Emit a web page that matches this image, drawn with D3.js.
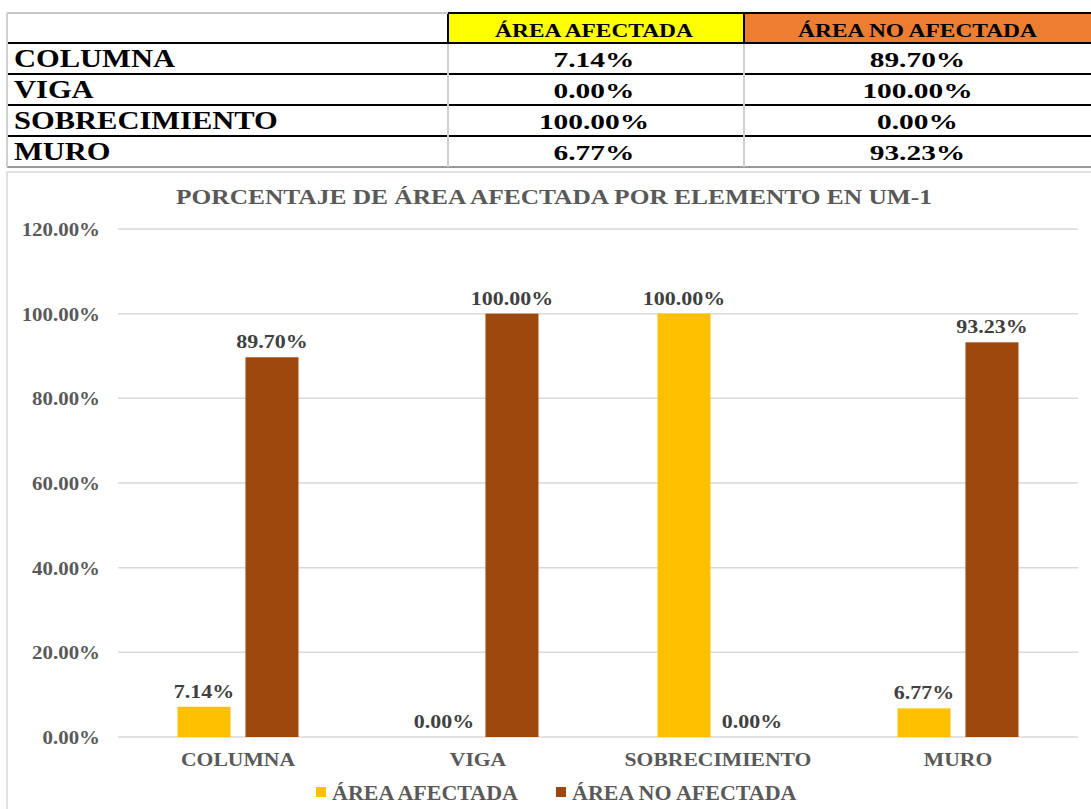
<!DOCTYPE html>
<html>
<head>
<meta charset="utf-8">
<script src="https://cdn.jsdelivr.net/npm/d3@7"></script>
<style>
  body { margin: 0; background: #fff; }
  svg { display: block; }
  text { font-family: "Liberation Serif", "Times New Roman", serif; font-weight: bold; }
</style>
</head>
<body>
<div id="chart-area"></div>
<script>
// data
const categories = ["COLUMNA", "VIGA", "SOBRECIMIENTO", "MURO"];
const series = ["ÁREA AFECTADA", "ÁREA NO AFECTADA"];
const afectada = [0.0714, 0.0, 1.0, 0.0677];
const noAfectada = [0.897, 1.0, 0.0, 0.9323];
const yTicks = [0, 0.2, 0.4, 0.6, 0.8, 1.0, 1.2];

const W = 1091, H = 809;
const fmt = d3.format(".2%");
const colors = d3.scaleOrdinal().domain(series).range(["#FFC000", "#9E480E"]);
const headFill = d3.scaleOrdinal().domain(series).range(["#FFFF00", "#ED7D31"]);

const rows = categories.map((c, i) => ({ name: c, values: [afectada[i], noAfectada[i]] }));

let svg = d3.select("#chart-area").append("svg")
  .attr("width", W)
  .attr("height", H);

// stretch text horizontally like the original picture
function stretch(sel, k) {
  sel.each(function () {
    let len = this.getComputedTextLength();
    d3.select(this).attr("textLength", len * k).attr("lengthAdjust", "spacingAndGlyphs");
  });
}

// ---------- table ----------
const tTop = 13, headH = 30, rowH = 31;
const colX = [7, 448, 744, 1095];
const table = svg.append("g");

let rowY = d3.scaleBand().domain(categories).range([tTop + headH, tTop + headH + rowH * categories.length]);

// header cells
table.selectAll("rect.head").data(series).enter()
  .append("rect")
  .attr("x", (d, i) => colX[i + 1])
  .attr("y", tTop)
  .attr("width", (d, i) => colX[i + 2] - colX[i + 1])
  .attr("height", headH)
  .attr("fill", d => headFill(d))
  .attr("stroke", "#000")
  .attr("stroke-width", 2);

table.append("line").attr("x1", colX[0]).attr("x2", colX[1]).attr("y1", tTop).attr("y2", tTop)
  .attr("stroke", "#c8c8c8").attr("stroke-width", 2);

table.selectAll("text.head").data(series).enter()
  .append("text")
  .attr("x", (d, i) => (colX[i + 1] + colX[i + 2] - 4) / 2)
  .attr("y", tTop + 24)
  .attr("text-anchor", "middle")
  .attr("font-size", 18)
  .attr("fill", "#000")
  .text(d => d)
  .call(stretch, 1.3);

// row lines
table.selectAll("line.row").data(categories).enter()
  .append("line")
  .attr("x1", colX[0]).attr("x2", W)
  .attr("y1", d => rowY(d) + rowY.bandwidth())
  .attr("y2", d => rowY(d) + rowY.bandwidth())
  .attr("stroke", (d, i) => i == categories.length - 1 ? "#9a9a9a" : "#000")
  .attr("stroke-width", 2);
table.append("line").attr("x1", colX[0]).attr("x2", W).attr("y1", tTop + headH).attr("y2", tTop + headH)
  .attr("stroke", "#000").attr("stroke-width", 2);

// vertical separators
[colX[0], colX[1], colX[2]].forEach((x, i) => {
  table.append("line")
    .attr("x1", x).attr("x2", x)
    .attr("y1", i == 0 ? tTop : tTop + headH + 1)
    .attr("y2", tTop + headH + rowH * categories.length)
    .attr("stroke", "#d0d0d0").attr("stroke-width", 2);
});

let tRows = table.selectAll("g.trow").data(rows).enter().append("g")
  .attr("transform", d => "translate(0," + rowY(d.name) + ")");

tRows.append("text")
  .attr("x", 14)
  .attr("y", 24)
  .attr("font-size", 25)
  .attr("fill", "#000")
  .text(d => d.name)
  .call(stretch, 1.22);

tRows.selectAll("text.val").data(d => d.values).enter()
  .append("text")
  .attr("x", (d, i) => (colX[i + 1] + colX[i + 2] - 4) / 2)
  .attr("y", 24)
  .attr("text-anchor", "middle")
  .attr("font-size", 21)
  .attr("fill", "#000")
  .text(d => fmt(d))
  .call(stretch, 1.4);

// ---------- chart ----------
svg.append("rect")
  .attr("x", 7).attr("y", 172)
  .attr("width", W).attr("height", H)
  .attr("fill", "none")
  .attr("stroke", "#d9d9d9")
  .attr("stroke-width", 1.5);

let x = d3.scaleBand()
  .domain(categories)
  .range([118, 1078]);

let y = d3.scaleLinear()
  .domain([0, 1.2])
  .range([737, 229]);

let xInner = d3.scaleBand()
  .domain(series)
  .range([x.bandwidth() * 0.248, x.bandwidth() * 0.752])
  .paddingInner(0.22);

// title
svg.append("text")
  .attr("x", 554)
  .attr("y", 204)
  .attr("text-anchor", "middle")
  .attr("font-size", 20)
  .attr("fill", "#595959")
  .text("PORCENTAJE DE ÁREA AFECTADA POR ELEMENTO EN UM-1")
  .attr("textLength", 756)
  .attr("lengthAdjust", "spacingAndGlyphs");

// grid
svg.append("g").selectAll("line").data(yTicks).enter()
  .append("line")
  .attr("x1", 118).attr("x2", 1078)
  .attr("y1", d => y(d)).attr("y2", d => y(d))
  .attr("stroke", "#d9d9d9")
  .attr("stroke-width", 1.5);

// y labels
svg.append("g").selectAll("text").data(yTicks).enter()
  .append("text")
  .attr("x", 100)
  .attr("y", d => y(d) + 7)
  .attr("text-anchor", "end")
  .attr("font-size", 19)
  .attr("fill", "#595959")
  .text(d => fmt(d))
  .call(stretch, 1.1);

// bars
let groups = svg.append("g").selectAll("g").data(rows).enter()
  .append("g")
  .attr("transform", d => "translate(" + x(d.name) + ",0)");

let bars = groups.selectAll("rect").data(d => d.values.map((v, i) => ({ s: series[i], v: v })));
bars.enter()
  .append("rect")
  .attr("x", d => xInner(d.s))
  .attr("y", d => y(d.v))
  .attr("width", xInner.bandwidth())
  .attr("height", d => y(0) - y(d.v))
  .attr("fill", d => colors(d.s));

groups.selectAll("text").data(d => d.values.map((v, i) => ({ s: series[i], v: v }))).enter()
  .append("text")
  .attr("x", d => xInner(d.s) + xInner.bandwidth() / 2)
  .attr("y", d => y(d.v) - 9)
  .attr("text-anchor", "middle")
  .attr("font-size", 18)
  .attr("fill", "#404040")
  .text(d => fmt(d.v))
  .call(stretch, 1.22);

// x labels
svg.append("g").selectAll("text").data(categories).enter()
  .append("text")
  .attr("x", d => x(d) + x.bandwidth() / 2)
  .attr("y", 766)
  .attr("text-anchor", "middle")
  .attr("font-size", 18)
  .attr("fill", "#595959")
  .text(d => d)
  .call(stretch, 1.2);

// legend
const legX = [316, 556];
let leg = svg.append("g").selectAll("g").data(series).enter()
  .append("g")
  .attr("transform", (d, i) => "translate(" + legX[i] + ",787)");
leg.append("rect")
  .attr("width", 10).attr("height", 10)
  .attr("fill", d => colors(d));
leg.append("text")
  .attr("x", 16)
  .attr("y", 13)
  .attr("font-size", 20)
  .attr("fill", "#595959")
  .text(d => d)
  .call(stretch, 1.1);
</script>
</body>
</html>
